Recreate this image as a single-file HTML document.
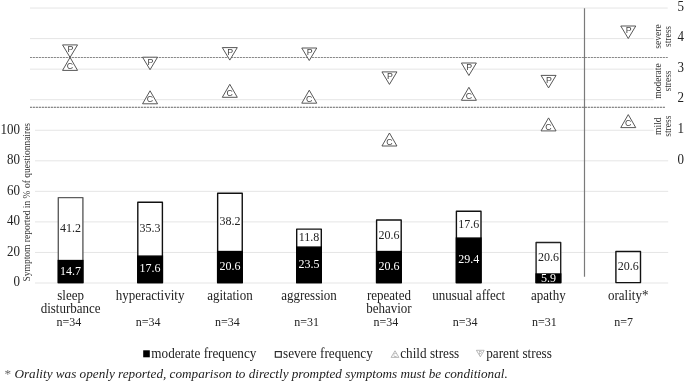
<!DOCTYPE html>
<html><head><meta charset="utf-8"><style>
html,body{margin:0;padding:0;background:#fff;}
body{width:685px;height:382px;overflow:hidden;}
svg{display:block;font-family:"Liberation Serif", serif;will-change:transform;}
</style></head><body>
<svg width="685" height="382" viewBox="0 0 685 382">
<rect width="685" height="382" fill="#fff"/>
<line x1="30" y1="8.05" x2="667.7" y2="8.05" stroke="#e5e5e5" stroke-width="1"/>
<line x1="30" y1="38.60" x2="653.7" y2="38.60" stroke="#e5e5e5" stroke-width="1"/>
<line x1="30" y1="69.15" x2="653.7" y2="69.15" stroke="#e5e5e5" stroke-width="1"/>
<line x1="30" y1="99.70" x2="653.7" y2="99.70" stroke="#e5e5e5" stroke-width="1"/>
<line x1="35" y1="130.25" x2="653.7" y2="130.25" stroke="#e5e5e5" stroke-width="1"/>
<line x1="35" y1="160.80" x2="668.2" y2="160.80" stroke="#e5e5e5" stroke-width="1"/>
<line x1="35" y1="191.35" x2="668.2" y2="191.35" stroke="#e5e5e5" stroke-width="1"/>
<line x1="35" y1="221.90" x2="668.2" y2="221.90" stroke="#e5e5e5" stroke-width="1"/>
<line x1="35" y1="252.45" x2="668.2" y2="252.45" stroke="#e5e5e5" stroke-width="1"/>
<line x1="35" y1="283.00" x2="668.2" y2="283.00" stroke="#e5e5e5" stroke-width="1"/>
<line x1="30" y1="57.5" x2="667.7" y2="57.5" stroke="#dedede" stroke-width="1.2"/>
<line x1="30" y1="57.5" x2="667.7" y2="57.5" stroke="#888" stroke-width="1.1" stroke-dasharray="1.9,1.1"/>
<line x1="30" y1="107.4" x2="665" y2="107.4" stroke="#dedede" stroke-width="1.2"/>
<line x1="30" y1="107.4" x2="665" y2="107.4" stroke="#888" stroke-width="1.1" stroke-dasharray="1.9,1.1"/>
<line x1="584.5" y1="8.2" x2="584.5" y2="276.7" stroke="#7a7a7a" stroke-width="1.2"/>
<rect x="58.30" y="197.61" width="24.6" height="84.99" fill="#fff" stroke="#5e5e5e" stroke-width="1.4" stroke-linejoin="round"/>
<rect x="58.30" y="260.55" width="24.6" height="22.05" fill="#000" stroke="#000" stroke-width="1.4"/>
<rect x="137.80" y="202.20" width="24.6" height="80.40" fill="#fff" stroke="#111" stroke-width="1.4" stroke-linejoin="round"/>
<rect x="137.80" y="256.12" width="24.6" height="26.48" fill="#000" stroke="#000" stroke-width="1.4"/>
<rect x="217.65" y="193.18" width="24.6" height="89.42" fill="#fff" stroke="#111" stroke-width="1.4" stroke-linejoin="round"/>
<rect x="217.65" y="251.53" width="24.6" height="31.07" fill="#000" stroke="#000" stroke-width="1.4"/>
<rect x="296.70" y="229.08" width="24.6" height="53.52" fill="#fff" stroke="#111" stroke-width="1.4" stroke-linejoin="round"/>
<rect x="296.70" y="247.10" width="24.6" height="35.50" fill="#000" stroke="#000" stroke-width="1.4"/>
<rect x="376.60" y="220.07" width="24.6" height="62.53" fill="#fff" stroke="#111" stroke-width="1.4" stroke-linejoin="round"/>
<rect x="376.60" y="251.53" width="24.6" height="31.07" fill="#000" stroke="#000" stroke-width="1.4"/>
<rect x="456.40" y="211.21" width="24.6" height="71.39" fill="#fff" stroke="#111" stroke-width="1.4" stroke-linejoin="round"/>
<rect x="456.40" y="238.09" width="24.6" height="44.51" fill="#000" stroke="#000" stroke-width="1.4"/>
<rect x="536.10" y="242.52" width="24.6" height="40.08" fill="#fff" stroke="#222" stroke-width="1.4" stroke-linejoin="round"/>
<rect x="536.10" y="273.99" width="24.6" height="8.61" fill="#000" stroke="#000" stroke-width="1.4"/>
<rect x="615.90" y="251.53" width="24.6" height="31.07" fill="#fff" stroke="#111" stroke-width="1.4" stroke-linejoin="round"/>
<path d="M62.55,44.90 L77.55,44.90 L70.05,57.40 Z" fill="#fff" stroke="#444" stroke-width="0.9"/>
<path d="M70.05,57.40 L77.55,70.40 L62.55,70.40 Z" fill="#fff" stroke="#444" stroke-width="0.9"/>
<path d="M142.55,57.20 L157.55,57.20 L150.05,69.70 Z" fill="#fff" stroke="#444" stroke-width="0.9"/>
<path d="M150.05,90.80 L157.55,103.80 L142.55,103.80 Z" fill="#fff" stroke="#444" stroke-width="0.9"/>
<path d="M222.30,47.60 L237.30,47.60 L229.80,60.10 Z" fill="#fff" stroke="#444" stroke-width="0.9"/>
<path d="M229.80,84.30 L237.30,97.30 L222.30,97.30 Z" fill="#fff" stroke="#444" stroke-width="0.9"/>
<path d="M301.75,48.00 L316.75,48.00 L309.25,60.50 Z" fill="#fff" stroke="#444" stroke-width="0.9"/>
<path d="M309.25,90.20 L316.75,103.20 L301.75,103.20 Z" fill="#fff" stroke="#444" stroke-width="0.9"/>
<path d="M381.95,71.90 L396.95,71.90 L389.45,84.40 Z" fill="#fff" stroke="#444" stroke-width="0.9"/>
<path d="M389.45,133.00 L396.95,146.00 L381.95,146.00 Z" fill="#fff" stroke="#444" stroke-width="0.9"/>
<path d="M461.40,63.00 L476.40,63.00 L468.90,75.50 Z" fill="#fff" stroke="#444" stroke-width="0.9"/>
<path d="M468.90,87.30 L476.40,100.30 L461.40,100.30 Z" fill="#fff" stroke="#444" stroke-width="0.9"/>
<path d="M541.05,75.40 L556.05,75.40 L548.55,87.90 Z" fill="#fff" stroke="#444" stroke-width="0.9"/>
<path d="M548.55,117.90 L556.05,130.90 L541.05,130.90 Z" fill="#fff" stroke="#444" stroke-width="0.9"/>
<path d="M620.75,26.00 L635.75,26.00 L628.25,38.50 Z" fill="#fff" stroke="#444" stroke-width="0.9"/>
<path d="M628.25,114.60 L635.75,127.60 L620.75,127.60 Z" fill="#fff" stroke="#444" stroke-width="0.9"/>
<rect x="143.2" y="350.3" width="6.6" height="7" fill="#000"/>
<rect x="275.3" y="351.6" width="6" height="5.6" fill="#fff" stroke="#222" stroke-width="1.1"/>
<path d="M395,350.8 L398.9,357.4 L391.1,357.4 Z" fill="#fff" stroke="#999" stroke-width="0.7"/>
<path d="M476.4,350.3 L484.2,350.3 L480.3,356.8 Z" fill="#fff" stroke="#999" stroke-width="0.7"/>
<text transform="translate(70.60,232.00) rotate(0.01)" font-size="12" fill="#222" text-anchor="middle">41.2</text>
<text transform="translate(70.60,275.00) rotate(0.01)" font-size="12" fill="#fff" text-anchor="middle">14.7</text>
<text transform="translate(150.10,232.00) rotate(0.01)" font-size="12" fill="#222" text-anchor="middle">35.3</text>
<text transform="translate(150.10,272.00) rotate(0.01)" font-size="12" fill="#fff" text-anchor="middle">17.6</text>
<text transform="translate(229.95,225.00) rotate(0.01)" font-size="12" fill="#222" text-anchor="middle">38.2</text>
<text transform="translate(229.95,270.00) rotate(0.01)" font-size="12" fill="#fff" text-anchor="middle">20.6</text>
<text transform="translate(309.00,241.00) rotate(0.01)" font-size="12" fill="#222" text-anchor="middle">11.8</text>
<text transform="translate(309.00,268.00) rotate(0.01)" font-size="12" fill="#fff" text-anchor="middle">23.5</text>
<text transform="translate(388.90,239.00) rotate(0.01)" font-size="12" fill="#222" text-anchor="middle">20.6</text>
<text transform="translate(388.90,270.00) rotate(0.01)" font-size="12" fill="#fff" text-anchor="middle">20.6</text>
<text transform="translate(468.70,228.00) rotate(0.01)" font-size="12" fill="#222" text-anchor="middle">17.6</text>
<text transform="translate(468.70,263.00) rotate(0.01)" font-size="12" fill="#fff" text-anchor="middle">29.4</text>
<text transform="translate(548.40,261.00) rotate(0.01)" font-size="12" fill="#222" text-anchor="middle">20.6</text>
<text transform="translate(548.40,282.00) rotate(0.01)" font-size="12" fill="#fff" text-anchor="middle">5.9</text>
<text transform="translate(628.20,270.00) rotate(0.01)" font-size="12" fill="#222" text-anchor="middle">20.6</text>
<text transform="translate(70.45,52.00) rotate(0.01) scale(0.9,1)" font-size="9.8" fill="#444" text-anchor="middle" font-family="'Liberation Sans', sans-serif">P</text>
<text transform="translate(70.05,69.00) rotate(0.01) scale(0.9,1)" font-size="9.8" fill="#444" text-anchor="middle" font-family="'Liberation Sans', sans-serif">C</text>
<text transform="translate(150.45,65.00) rotate(0.01) scale(0.9,1)" font-size="9.8" fill="#444" text-anchor="middle" font-family="'Liberation Sans', sans-serif">P</text>
<text transform="translate(150.05,102.00) rotate(0.01) scale(0.9,1)" font-size="9.8" fill="#444" text-anchor="middle" font-family="'Liberation Sans', sans-serif">C</text>
<text transform="translate(230.20,55.00) rotate(0.01) scale(0.9,1)" font-size="9.8" fill="#444" text-anchor="middle" font-family="'Liberation Sans', sans-serif">P</text>
<text transform="translate(229.80,96.00) rotate(0.01) scale(0.9,1)" font-size="9.8" fill="#444" text-anchor="middle" font-family="'Liberation Sans', sans-serif">C</text>
<text transform="translate(309.65,55.00) rotate(0.01) scale(0.9,1)" font-size="9.8" fill="#444" text-anchor="middle" font-family="'Liberation Sans', sans-serif">P</text>
<text transform="translate(309.25,102.00) rotate(0.01) scale(0.9,1)" font-size="9.8" fill="#444" text-anchor="middle" font-family="'Liberation Sans', sans-serif">C</text>
<text transform="translate(389.85,79.00) rotate(0.01) scale(0.9,1)" font-size="9.8" fill="#444" text-anchor="middle" font-family="'Liberation Sans', sans-serif">P</text>
<text transform="translate(389.45,145.00) rotate(0.01) scale(0.9,1)" font-size="9.8" fill="#444" text-anchor="middle" font-family="'Liberation Sans', sans-serif">C</text>
<text transform="translate(469.30,70.00) rotate(0.01) scale(0.9,1)" font-size="9.8" fill="#444" text-anchor="middle" font-family="'Liberation Sans', sans-serif">P</text>
<text transform="translate(468.90,99.00) rotate(0.01) scale(0.9,1)" font-size="9.8" fill="#444" text-anchor="middle" font-family="'Liberation Sans', sans-serif">C</text>
<text transform="translate(548.95,83.00) rotate(0.01) scale(0.9,1)" font-size="9.8" fill="#444" text-anchor="middle" font-family="'Liberation Sans', sans-serif">P</text>
<text transform="translate(548.55,130.00) rotate(0.01) scale(0.9,1)" font-size="9.8" fill="#444" text-anchor="middle" font-family="'Liberation Sans', sans-serif">C</text>
<text transform="translate(628.65,33.00) rotate(0.01) scale(0.9,1)" font-size="9.8" fill="#444" text-anchor="middle" font-family="'Liberation Sans', sans-serif">P</text>
<text transform="translate(628.25,126.00) rotate(0.01) scale(0.9,1)" font-size="9.8" fill="#444" text-anchor="middle" font-family="'Liberation Sans', sans-serif">C</text>
<text transform="translate(20.00,134.00) rotate(0.01) scale(1,1.15)" font-size="13" fill="#222" text-anchor="end">100</text>
<text transform="translate(20.00,164.00) rotate(0.01) scale(1,1.15)" font-size="13" fill="#222" text-anchor="end">80</text>
<text transform="translate(20.00,195.00) rotate(0.01) scale(1,1.15)" font-size="13" fill="#222" text-anchor="end">60</text>
<text transform="translate(20.00,225.00) rotate(0.01) scale(1,1.15)" font-size="13" fill="#222" text-anchor="end">40</text>
<text transform="translate(20.00,256.00) rotate(0.01) scale(1,1.15)" font-size="13" fill="#222" text-anchor="end">20</text>
<text transform="translate(20.00,286.00) rotate(0.01) scale(1,1.15)" font-size="13" fill="#222" text-anchor="end">0</text>
<text transform="translate(677.50,11.00) rotate(0.01) scale(1,1.12)" font-size="13" fill="#222">5</text>
<text transform="translate(677.50,41.00) rotate(0.01) scale(1,1.12)" font-size="13" fill="#222">4</text>
<text transform="translate(677.50,72.00) rotate(0.01) scale(1,1.12)" font-size="13" fill="#222">3</text>
<text transform="translate(677.50,102.00) rotate(0.01) scale(1,1.12)" font-size="13" fill="#222">2</text>
<text transform="translate(677.50,133.00) rotate(0.01) scale(1,1.12)" font-size="13" fill="#222">1</text>
<text transform="translate(677.50,164.00) rotate(0.01) scale(1,1.12)" font-size="13" fill="#222">0</text>
<text transform="translate(30.20,281.50) rotate(-89.99)" font-size="9.5" fill="#333">Symptom reported in % of questionnaires</text>
<text transform="translate(661.10,36.50) rotate(-89.99)" font-size="9.5" fill="#333" text-anchor="middle">severe</text>
<text transform="translate(670.80,36.50) rotate(-89.99)" font-size="9.5" fill="#333" text-anchor="middle">stress</text>
<text transform="translate(661.10,81.00) rotate(-89.99)" font-size="9.5" fill="#333" text-anchor="middle">moderate</text>
<text transform="translate(670.80,81.00) rotate(-89.99)" font-size="9.5" fill="#333" text-anchor="middle">stress</text>
<text transform="translate(661.10,126.20) rotate(-89.99)" font-size="9.5" fill="#333" text-anchor="middle">mild</text>
<text transform="translate(670.80,126.20) rotate(-89.99)" font-size="9.5" fill="#333" text-anchor="middle">stress</text>
<text transform="translate(70.60,300.00) rotate(0.01) scale(1,1.07)" font-size="13" fill="#222" text-anchor="middle">sleep</text>
<text transform="translate(70.60,313.00) rotate(0.01) scale(1,1.07)" font-size="13" fill="#222" text-anchor="middle">disturbance</text>
<text transform="translate(68.90,326.00) rotate(0.01)" font-size="12" fill="#222" text-anchor="middle">n=34</text>
<text transform="translate(150.10,300.00) rotate(0.01) scale(1,1.07)" font-size="13" fill="#222" text-anchor="middle">hyperactivity</text>
<text transform="translate(148.16,326.00) rotate(0.01)" font-size="12" fill="#222" text-anchor="middle">n=34</text>
<text transform="translate(229.95,300.00) rotate(0.01) scale(1,1.07)" font-size="13" fill="#222" text-anchor="middle">agitation</text>
<text transform="translate(227.42,326.00) rotate(0.01)" font-size="12" fill="#222" text-anchor="middle">n=34</text>
<text transform="translate(309.00,300.00) rotate(0.01) scale(1,1.07)" font-size="13" fill="#222" text-anchor="middle">aggression</text>
<text transform="translate(306.68,326.00) rotate(0.01)" font-size="12" fill="#222" text-anchor="middle">n=31</text>
<text transform="translate(388.90,300.00) rotate(0.01) scale(1,1.07)" font-size="13" fill="#222" text-anchor="middle">repeated</text>
<text transform="translate(388.90,313.00) rotate(0.01) scale(1,1.07)" font-size="13" fill="#222" text-anchor="middle">behavior</text>
<text transform="translate(385.94,326.00) rotate(0.01)" font-size="12" fill="#222" text-anchor="middle">n=34</text>
<text transform="translate(468.70,300.00) rotate(0.01) scale(1,1.07)" font-size="13" fill="#222" text-anchor="middle">unusual affect</text>
<text transform="translate(465.20,326.00) rotate(0.01)" font-size="12" fill="#222" text-anchor="middle">n=34</text>
<text transform="translate(548.40,300.00) rotate(0.01) scale(1,1.07)" font-size="13" fill="#222" text-anchor="middle">apathy</text>
<text transform="translate(544.46,326.00) rotate(0.01)" font-size="12" fill="#222" text-anchor="middle">n=31</text>
<text transform="translate(628.20,300.00) rotate(0.01) scale(1,1.07)" font-size="13" fill="#222" text-anchor="middle">orality*</text>
<text transform="translate(623.72,326.00) rotate(0.01)" font-size="12" fill="#222" text-anchor="middle">n=7</text>
<text transform="translate(151.30,358.00) rotate(0.01) scale(1,1.06)" font-size="13.2" fill="#222">moderate frequency</text>
<text transform="translate(283.00,358.00) rotate(0.01) scale(1,1.06)" font-size="13.2" fill="#222">severe frequency</text>
<text transform="translate(395.00,356.80) rotate(0.01)" font-size="4.5" fill="#999" text-anchor="middle" font-family="'Liberation Sans', sans-serif">C</text>
<text transform="translate(400.20,358.00) rotate(0.01) scale(1,1.06)" font-size="13.2" fill="#222">child stress</text>
<text transform="translate(480.30,354.60) rotate(0.01)" font-size="4.5" fill="#999" text-anchor="middle" font-family="'Liberation Sans', sans-serif">P</text>
<text transform="translate(486.20,358.00) rotate(0.01) scale(1,1.06)" font-size="13.2" fill="#222">parent stress</text>
<text transform="translate(4.50,378.00) rotate(0.01)" font-size="13.2" fill="#222"><tspan fill="#666" font-style="normal">*</tspan><tspan font-style="italic"> Orality was openly reported, comparison to directly prompted symptoms must be conditional.</tspan></text>
</svg>
</body></html>
